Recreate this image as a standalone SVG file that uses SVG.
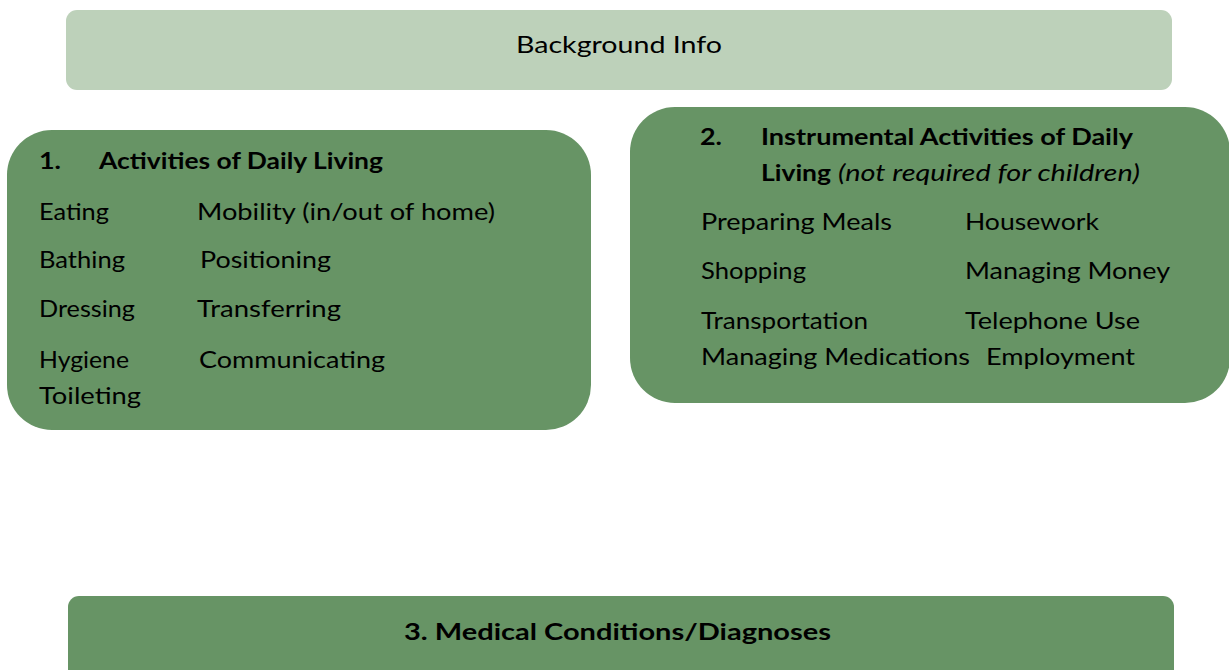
<svg xmlns="http://www.w3.org/2000/svg" width="1229" height="670" viewBox="0 0 1229 670">
<style>
.t{font-family:Lato,"Liberation Sans",sans-serif;font-size:24px;fill:#000}
.b{font-weight:bold;font-size:23px}
.i{font-style:italic}
.box{fill:#679465}
</style>
<rect width="1229" height="670" fill="#fff"/>
<g id="background-info">
<rect x="66" y="10" width="1106" height="80" rx="11" fill="#bdd1ba"/>
<text class="t" x="516" y="53" textLength="206" lengthAdjust="spacingAndGlyphs">Background Info</text>
</g>
<g id="adl">
<rect class="box" x="7" y="130" width="584" height="300" rx="45"/>
<text class="t b" x="39" y="169" textLength="22" lengthAdjust="spacingAndGlyphs">1.</text>
<text class="t b" x="99" y="169" textLength="284" lengthAdjust="spacingAndGlyphs">Activities of Daily Living</text>
<text class="t" x="39" y="220" textLength="70" lengthAdjust="spacingAndGlyphs">Eating</text>
<text class="t" x="197" y="220" textLength="298" lengthAdjust="spacingAndGlyphs">Mobility (in/out of home)</text>
<text class="t" x="39" y="268" textLength="86" lengthAdjust="spacingAndGlyphs">Bathing</text>
<text class="t" x="200" y="268" textLength="131" lengthAdjust="spacingAndGlyphs">Positioning</text>
<text class="t" x="39" y="317" textLength="96" lengthAdjust="spacingAndGlyphs">Dressing</text>
<text class="t" x="197" y="317" textLength="144" lengthAdjust="spacingAndGlyphs">Transferring</text>
<text class="t" x="39" y="368" textLength="90" lengthAdjust="spacingAndGlyphs">Hygiene</text>
<text class="t" x="199" y="368" textLength="186" lengthAdjust="spacingAndGlyphs">Communicating</text>
<text class="t" x="39" y="404" textLength="102" lengthAdjust="spacingAndGlyphs">Toileting</text>
</g>
<g id="iadl">
<rect class="box" x="630" y="107" width="600" height="296" rx="45"/>
<text class="t b" x="700" y="145" textLength="22" lengthAdjust="spacingAndGlyphs">2.</text>
<text class="t b" x="761" y="145" textLength="372" lengthAdjust="spacingAndGlyphs">Instrumental Activities of Daily</text>
<text class="t b" x="761" y="181" textLength="70" lengthAdjust="spacingAndGlyphs">Living</text>
<text class="t i" x="838" y="181" textLength="302" lengthAdjust="spacingAndGlyphs">(not required for children)</text>
<text class="t" x="701" y="230" textLength="191" lengthAdjust="spacingAndGlyphs">Preparing Meals</text>
<text class="t" x="965" y="230" textLength="134" lengthAdjust="spacingAndGlyphs">Housework</text>
<text class="t" x="701" y="279" textLength="105" lengthAdjust="spacingAndGlyphs">Shopping</text>
<text class="t" x="965" y="279" textLength="205" lengthAdjust="spacingAndGlyphs">Managing Money</text>
<text class="t" x="701" y="329" textLength="167" lengthAdjust="spacingAndGlyphs">Transportation</text>
<text class="t" x="965" y="329" textLength="175" lengthAdjust="spacingAndGlyphs">Telephone Use</text>
<text class="t" x="701" y="365" textLength="269" lengthAdjust="spacingAndGlyphs">Managing Medications</text>
<text class="t" x="986" y="365" textLength="149" lengthAdjust="spacingAndGlyphs">Employment</text>
</g>
<g id="medical">
<rect class="box" x="68" y="596" width="1106" height="90" rx="11"/>
<text class="t b" x="404" y="640" textLength="427" lengthAdjust="spacingAndGlyphs">3. Medical Conditions/Diagnoses</text>
</g>
<g id="connectors"/>
</svg>
